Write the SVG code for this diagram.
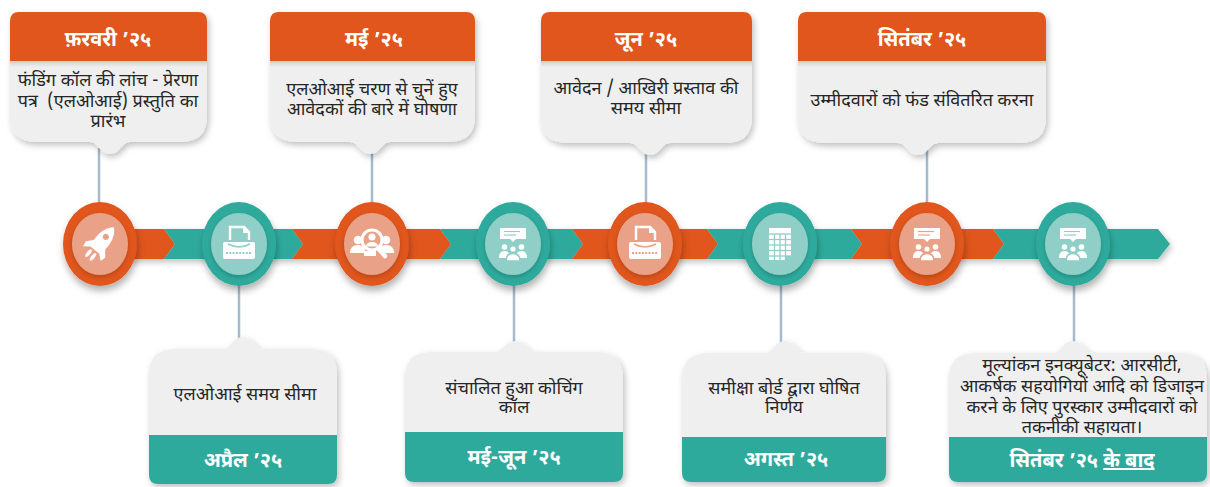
<svg xmlns="http://www.w3.org/2000/svg" width="1210" height="487" viewBox="0 0 1210 487">
<defs>
<style>
.or{fill:#E0561F}
.te{fill:#2EAA9C}
.body{fill:#EFEFEF}
.ln{stroke:#A5BBCD;stroke-width:2.5;fill:none}
.hd{font-family:'Noto Sans Devanagari','Noto Sans','Lohit Devanagari',FreeSans,sans-serif;font-weight:700;font-size:20px;fill:#fff;text-anchor:middle}
.tx{font-family:'Noto Sans Devanagari','Noto Sans','Lohit Devanagari',FreeSans,sans-serif;font-size:18px;fill:#262626;text-anchor:middle}
.w{fill:#fff;stroke:none}
.wm{fill:#fff;stroke-width:1.6}
.ws{fill:none;stroke:#fff}
.oo{fill:#E0561F}
.oi{fill:#E9A287}
.to{fill:#2EAA9C}
.ti{fill:#8FCFC7}
</style>
<filter id="sh" x="-10%" y="-10%" width="125%" height="135%"><feDropShadow dx="2" dy="3" stdDeviation="3" flood-color="#000" flood-opacity="0.25"/></filter>
<filter id="shc" x="-30%" y="-30%" width="160%" height="170%"><feDropShadow dx="1" dy="5" stdDeviation="3.5" flood-color="#000" flood-opacity="0.3"/></filter>
<filter id="shi" x="-30%" y="-30%" width="160%" height="170%"><feDropShadow dx="0" dy="2" stdDeviation="2" flood-color="#000" flood-opacity="0.2"/></filter>
<linearGradient id="hs" x1="0" y1="0" x2="0" y2="1"><stop offset="0" stop-color="#000" stop-opacity="0.14"/><stop offset="1" stop-color="#000" stop-opacity="0"/></linearGradient>
<g id="rocket">
<g transform="rotate(40) scale(1.15)">
<path class="w" d="M0,-19 C7,-13 8,-2 5,7 H-5 C-8,-2 -7,-13 0,-19 Z"/>
<circle cx="0" cy="-8" r="2.6"/>
<path class="w" d="M-5,-1 L-11,6 L-10,11 L-5,7 Z"/>
<path class="w" d="M5,-1 L11,6 L10,11 L5,7 Z"/>
<ellipse class="w" cx="-2.5" cy="12.5" rx="1.6" ry="4"/>
<ellipse class="w" cx="2.5" cy="12.5" rx="1.6" ry="4"/>
</g>
</g>
<g id="typew">
<path class="ws" stroke-width="2.4" d="M-9,-4 V-17 H5 L10,-12 V-4"/>
<path class="w" d="M4,-17 V-11 H10 Z"/>
<rect class="w" x="-16" y="-2" width="32" height="17" rx="2"/>
<path d="M-11,0 Q0,6 11,0" fill="none" stroke-width="1.6"/>
<line x1="-13" y1="9" x2="13" y2="9" stroke-width="2" stroke-dasharray="2 1.3" fill="none"/>
</g>
<g id="pres">
<rect class="w" x="-13" y="-16" width="26" height="11"/>
<line x1="-9" y1="-12.5" x2="7" y2="-12.5" stroke-width="1.2"/>
<line x1="-9" y1="-9" x2="3" y2="-9" stroke-width="1.2"/>
<path class="w" d="M-3,-5 L0,-2 L3,-5 Z"/>
<circle class="w" cx="-8.5" cy="3" r="2.8"/>
<circle class="w" cx="8.5" cy="3" r="2.8"/>
<path class="w" d="M-14,14 Q-14,7 -8.5,7 Q-3,7 -3,14 Z"/>
<path class="w" d="M14,14 Q14,7 8.5,7 Q3,7 3,14 Z"/>
<circle class="wm" cx="0" cy="5" r="3.4"/>
<path class="wm" d="M-7,17 Q-7,9.5 0,9.5 Q7,9.5 7,17 Z"/>
</g>
<g id="cal">
<rect class="w" x="-11" y="-16" width="22" height="32"/>
<g stroke-width="1.3" fill="none">
<line x1="-11" y1="-10" x2="11" y2="-10"/>
<line x1="-11" y1="-4.5" x2="11" y2="-4.5"/>
<line x1="-11" y1="1" x2="11" y2="1"/>
<line x1="-11" y1="6.5" x2="11" y2="6.5"/>
<line x1="-11" y1="12" x2="11" y2="12"/>
<line x1="-5.5" y1="-10" x2="-5.5" y2="16"/>
<line x1="0" y1="-10" x2="0" y2="16"/>
<line x1="5.5" y1="-10" x2="5.5" y2="16"/>
</g>
<rect x="5.5" y="12" width="6" height="4.5" stroke="none"/>
</g>
<g id="search">
<circle class="w" cx="-14" cy="-4" r="4.3"/>
<path class="w" d="M-22,9 Q-22,1 -14,1 Q-8,1 -7,5 V9 Z"/>
<circle class="w" cx="14" cy="-4" r="4.3"/>
<path class="w" d="M22,9 Q22,1 14,1 Q8,1 7,5 V9 Z"/>
<line x1="6" y1="4" x2="13" y2="12" stroke="#fff" stroke-width="4.5" stroke-linecap="round"/>
<circle cx="0" cy="-4" r="10" stroke="#fff" stroke-width="3"/>
<circle class="w" cx="0" cy="-7" r="3.5"/>
<path class="w" d="M-6,2.5 Q-6,-2 0,-2 Q6,-2 6,2.5 Z"/>
<rect class="w" x="-8" y="7" width="12" height="5"/>
</g>
</defs>

<rect width="1210" height="487" fill="#fff"/>

<g id="connectors">
<line class="ln" x1="99" y1="148" x2="99" y2="206"/>
<line class="ln" x1="372" y1="148" x2="372" y2="206"/>
<line class="ln" x1="646" y1="150" x2="646" y2="206"/>
<line class="ln" x1="927" y1="150" x2="927" y2="206"/>
<line class="ln" x1="239" y1="282" x2="239" y2="342"/>
<line class="ln" x1="514" y1="282" x2="514" y2="345"/>
<line class="ln" x1="781" y1="282" x2="781" y2="345"/>
<line class="ln" x1="1074" y1="282" x2="1074" y2="345"/>
</g>

<g id="band" filter="url(#sh)">
<polygon class="or" points="100,229 164,229 175,244 164,259 100,259"/>
<polygon class="te" points="164,229 292,229 303,244 292,259 164,259 175,244"/>
<polygon class="or" points="292,229 440,229 451,244 440,259 292,259 303,244"/>
<polygon class="te" points="440,229 572,229 583,244 572,259 440,259 451,244"/>
<polygon class="or" points="572,229 707,229 718,244 707,259 572,259 583,244"/>
<polygon class="te" points="707,229 851,229 862,244 851,259 707,259 718,244"/>
<polygon class="or" points="851,229 993,229 1004,244 993,259 851,259 862,244"/>
<polygon class="te" points="993,229 1158,229 1170,244 1158,259 993,259 1004,244"/>
</g>

<g id="circle1"><ellipse class="oo" cx="100" cy="244" rx="37" ry="42" filter="url(#shc)"/><ellipse class="oi" cx="100" cy="244" rx="28" ry="31" filter="url(#shi)"/><use href="#rocket" x="100" y="244" fill="#E9A287"/></g>
<g id="circle2"><ellipse class="to" cx="239" cy="244" rx="37" ry="42" filter="url(#shc)"/><ellipse class="ti" cx="239" cy="244" rx="28" ry="31" filter="url(#shi)"/><use href="#typew" x="239" y="244" fill="#8FCFC7" stroke="#8FCFC7"/></g>
<g id="circle3"><ellipse class="oo" cx="372" cy="244" rx="37" ry="42" filter="url(#shc)"/><ellipse class="oi" cx="372" cy="244" rx="28" ry="31" filter="url(#shi)"/><use href="#search" x="372" y="244" fill="#E9A287" stroke="#E9A287"/></g>
<g id="circle4"><ellipse class="to" cx="513" cy="244" rx="37" ry="42" filter="url(#shc)"/><ellipse class="ti" cx="513" cy="244" rx="28" ry="31" filter="url(#shi)"/><use href="#pres" x="513" y="244" fill="#8FCFC7" stroke="#8FCFC7"/></g>
<g id="circle5"><ellipse class="oo" cx="645" cy="244" rx="37" ry="42" filter="url(#shc)"/><ellipse class="oi" cx="645" cy="244" rx="28" ry="31" filter="url(#shi)"/><use href="#typew" x="645" y="244" fill="#E9A287" stroke="#E9A287"/></g>
<g id="circle6"><ellipse class="to" cx="780" cy="244" rx="37" ry="42" filter="url(#shc)"/><ellipse class="ti" cx="780" cy="244" rx="28" ry="31" filter="url(#shi)"/><use href="#cal" x="780" y="244" fill="#8FCFC7" stroke="#8FCFC7"/></g>
<g id="circle7"><ellipse class="oo" cx="927" cy="244" rx="37" ry="42" filter="url(#shc)"/><ellipse class="oi" cx="927" cy="244" rx="28" ry="31" filter="url(#shi)"/><use href="#pres" x="927" y="244" fill="#E9A287" stroke="#E9A287"/></g>
<g id="circle8"><ellipse class="to" cx="1073" cy="244" rx="37" ry="42" filter="url(#shc)"/><ellipse class="ti" cx="1073" cy="244" rx="28" ry="31" filter="url(#shi)"/><use href="#pres" x="1073" y="244" fill="#8FCFC7" stroke="#8FCFC7"/></g>

<g id="card-feb">
<g filter="url(#sh)">
<path class="body" d="M10,61 V116 Q10,142 36,142 H90 C98,142 100,154 110,154 C120,154 122,142 130,142 H181 Q207,142 207,116 V61 Z"/>
<path class="or" d="M10,61 V21 Q10,12 19,12 H198 Q207,12 207,21 V61 Z"/>
</g>
<rect x="10" y="61" width="197" height="6" fill="url(#hs)"/>
<text class="hd" x="108" y="46">फ़रवरी ’२५</text>
<text class="tx" x="108" y="86">फंडिंग कॉल की लांच - प्रेरणा</text>
<text class="tx" x="108" y="107" xml:space="preserve">पत्र  (एलओआई) प्रस्तुति का</text>
<text class="tx" x="108" y="127">प्रारंभ</text>
</g>

<g id="card-may">
<g filter="url(#sh)">
<path class="body" d="M270,61 V116 Q270,142 296,142 H350 C358,142 360,154 370,154 C380,154 382,142 390,142 H449 Q475,142 475,116 V61 Z"/>
<path class="or" d="M270,61 V21 Q270,12 279,12 H466 Q475,12 475,21 V61 Z"/>
</g>
<rect x="270" y="61" width="205" height="6" fill="url(#hs)"/>
<text class="hd" x="374" y="46">मई ’२५</text>
<text class="tx" x="372" y="95">एलओआई चरण से चुनें हुए</text>
<text class="tx" x="372" y="115">आवेदकों की बारे में घोषणा</text>
</g>

<g id="card-jun">
<g filter="url(#sh)">
<path class="body" d="M541,61 V117 Q541,143 567,143 H630 C638,143 640,155 650,155 C660,155 662,143 670,143 H726 Q752,143 752,117 V61 Z"/>
<path class="or" d="M541,61 V21 Q541,12 550,12 H743 Q752,12 752,21 V61 Z"/>
</g>
<rect x="541" y="61" width="211" height="6" fill="url(#hs)"/>
<text class="hd" x="646" y="46">जून ’२५</text>
<text class="tx" x="646" y="94">आवेदन / आखिरी प्रस्ताव की</text>
<text class="tx" x="646" y="114">समय सीमा</text>
</g>

<g id="card-sep">
<g filter="url(#sh)">
<path class="body" d="M798,61 V117 Q798,143 824,143 H898 C906,143 908,155 918,155 C928,155 930,143 938,143 H1020 Q1046,143 1046,117 V61 Z"/>
<path class="or" d="M798,61 V21 Q798,12 807,12 H1037 Q1046,12 1046,21 V61 Z"/>
</g>
<rect x="798" y="61" width="248" height="6" fill="url(#hs)"/>
<text class="hd" x="922" y="46">सितंबर ’२५</text>
<text class="tx" x="922" y="106">उम्मीदवारों को फंड संवितरित करना</text>
</g>

<g id="card-apr">
<g filter="url(#sh)">
<path class="body" d="M149,435 V375 Q149,349 175,349 H223 C231,349 233,337 243,337 C253,337 255,349 263,349 H311 Q337,349 337,375 V435 Z"/>
<path class="te" d="M149,435 V475 Q149,484 158,484 H328 Q337,484 337,475 V435 Z"/>
</g>
<text class="tx" x="245" y="400">एलओआई समय सीमा</text>
<text class="hd" x="243" y="467">अप्रैल ’२५</text>
</g>

<g id="card-mayjun">
<g filter="url(#sh)">
<path class="body" d="M405,432 V378 Q405,352 431,352 H495 C503,352 505,341 515,341 C525,341 527,352 535,352 H597 Q623,352 623,378 V432 Z"/>
<path class="te" d="M405,432 V473 Q405,482 414,482 H614 Q623,482 623,473 V432 Z"/>
</g>
<text class="tx" x="514" y="394">संचालित हुआ कोचिंग</text>
<text class="tx" x="514" y="413">कॉल</text>
<text class="hd" x="514" y="464">मई-जून ’२५</text>
</g>

<g id="card-aug">
<g filter="url(#sh)">
<path class="body" d="M682,437 V379 Q682,353 708,353 H765 C773,353 775,341 785,341 C795,341 797,353 805,353 H860 Q886,353 886,379 V437 Z"/>
<path class="te" d="M682,437 V473 Q682,482 691,482 H877 Q886,482 886,473 V437 Z"/>
</g>
<text class="tx" x="784" y="394">समीक्षा बोर्ड द्वारा घोषित</text>
<text class="tx" x="784" y="413">निर्णय</text>
<text class="hd" x="786" y="466">अगस्त ’२५</text>
</g>

<g id="card-after">
<g filter="url(#sh)">
<path class="body" d="M949,437 V379 Q949,353 975,353 H1053 C1061,353 1063,341 1073,341 C1083,341 1085,353 1093,353 H1181 Q1207,353 1207,379 V437 Z"/>
<path class="te" d="M949,437 V473 Q949,482 958,482 H1198 Q1207,482 1207,473 V437 Z"/>
</g>
<text class="tx" x="1082" y="371">मूल्यांकन इनक्यूबेटर: आरसीटी,</text>
<text class="tx" x="1082" y="392">आकर्षक सहयोगियों आदि को डिजाइन</text>
<text class="tx" x="1082" y="413">करने के लिए पुरस्कार उम्मीदवारों को</text>
<text class="tx" x="1082" y="433">तकनीकी सहायता।</text>
<text class="hd" x="1082" y="467">सितंबर ’२५ <tspan text-decoration="underline">के बाद</tspan></text>
</g>
</svg>
